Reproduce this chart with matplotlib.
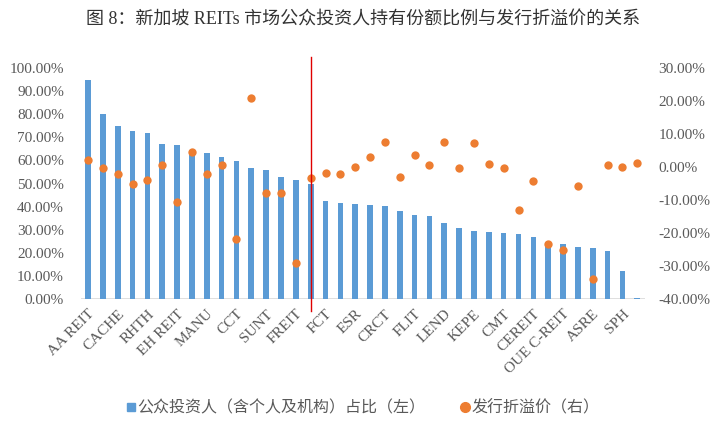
import numpy as np
import matplotlib
matplotlib.use('Agg')
import matplotlib.pyplot as plt
from matplotlib.lines import Line2D
from matplotlib.ticker import PercentFormatter

plt.rcParams['font.family'] = ['Liberation Serif', 'Noto Sans CJK SC']
plt.rcParams['axes.unicode_minus'] = False

# 38 REITs, only every other one is labelled on the axis
tick_names = ['AA REIT', 'CACHE', 'RHTH', 'EH REIT', 'MANU', 'CCT', 'SUNT', 'FREIT',
              'FCT', 'ESR', 'CRCT', 'FLIT', 'LEND', 'KEPE', 'CMT', 'CEREIT',
              'OUE C-REIT', 'ASRE', 'SPH']

# public investors share (left axis, %)
public_share = [94.8, 80.1, 74.9, 72.7, 71.9, 67.1, 66.7, 64.5, 63.2, 61.5,
                59.7, 56.7, 55.8, 52.8, 51.5, 49.8, 42.4, 41.6, 41.1, 40.7,
                40.3, 38.1, 36.4, 35.9, 32.9, 30.7, 29.4, 29.0, 28.6, 28.1,
                26.8, 24.5, 23.8, 22.5, 22.1, 20.8, 12.1, 0.4]

# issue premium / discount (right axis, %)
premium = [2.2, -0.2, -2.0, -5.2, -4.0, 0.5, -10.7, 4.5, -2.2, 0.5,
           -21.9, 20.8, -8.0, -8.0, -29.2, -3.2, -1.9, -2.2, -0.1, 2.9,
           7.5, -3.1, 3.5, 0.5, 7.5, -0.4, 7.2, 0.8, -0.4, -13.1,
           -4.3, -23.4, -25.2, -5.8, -34.0, 0.5, -0.1, 1.3]

split_pos = 15.05

title = '图 8：新加坡 REITs 市场公众投资人持有份额比例与发行折溢价的关系'
legend_labels = ['公众投资人（含个人及机构）占比（左）', '发行折溢价（右）']

blue = '#5B9BD5'
orange = '#ED7D31'
grey = '#595959'

x = np.arange(len(public_share))

fig = plt.figure(figsize=(7.26, 4.28), dpi=100)
ax = fig.add_axes([0.111, 0.3014, 0.777, 0.5397])
ax2 = ax.twinx()

ax.bar(x, public_share, width=0.38, color=blue, zorder=2)
ax2.scatter(x, premium, s=36, color=orange, zorder=3, linewidths=0)

ax.set_xlim(-0.5, len(x) - 0.5)
ax.set_ylim(0, 100)
ax.set_yticks(np.arange(0, 101, 10))
ax.yaxis.set_major_formatter(PercentFormatter(decimals=2))
ax2.set_ylim(-40, 30)
ax2.set_yticks(np.arange(-40, 31, 10))
ax2.yaxis.set_major_formatter(PercentFormatter(decimals=2))

ax.set_xticks(x[::2])
ax.set_xticklabels(tick_names, rotation=45, ha='right', rotation_mode='anchor')

for a in (ax, ax2):
    for s in ['top', 'right', 'left', 'bottom']:
        a.spines[s].set_visible(False)
    a.tick_params(length=0, labelsize=11, labelcolor=grey)
ax.tick_params(axis='y', pad=12)
ax2.tick_params(axis='y', pad=10)
ax.tick_params(axis='x', pad=6)
ax.axhline(0, color='#D9D9D9', lw=1.2, zorder=1)

ax2.axvline(split_pos, ymin=-0.052, ymax=1.048, color='#E00000', lw=1,
            clip_on=False, zorder=4)

fig.text(0.5, 1 - 20 / 428, title, ha='center', va='center', fontsize=13,
         color='#333333')

handles = [Line2D([], [], ls='none', marker='s', ms=6, color=blue),
           Line2D([], [], ls='none', marker='o', ms=7, color=orange)]
fig.legend(handles, legend_labels, loc='center', bbox_to_anchor=(0.5, 1 - 408 / 428),
           ncol=2, frameon=False, labelcolor=grey,
           handlelength=0.6, handletextpad=0.1, columnspacing=2.2,
           prop={'family': ['Noto Sans CJK SC'], 'size': 11.5})

fig.savefig('out.png', dpi=100)
